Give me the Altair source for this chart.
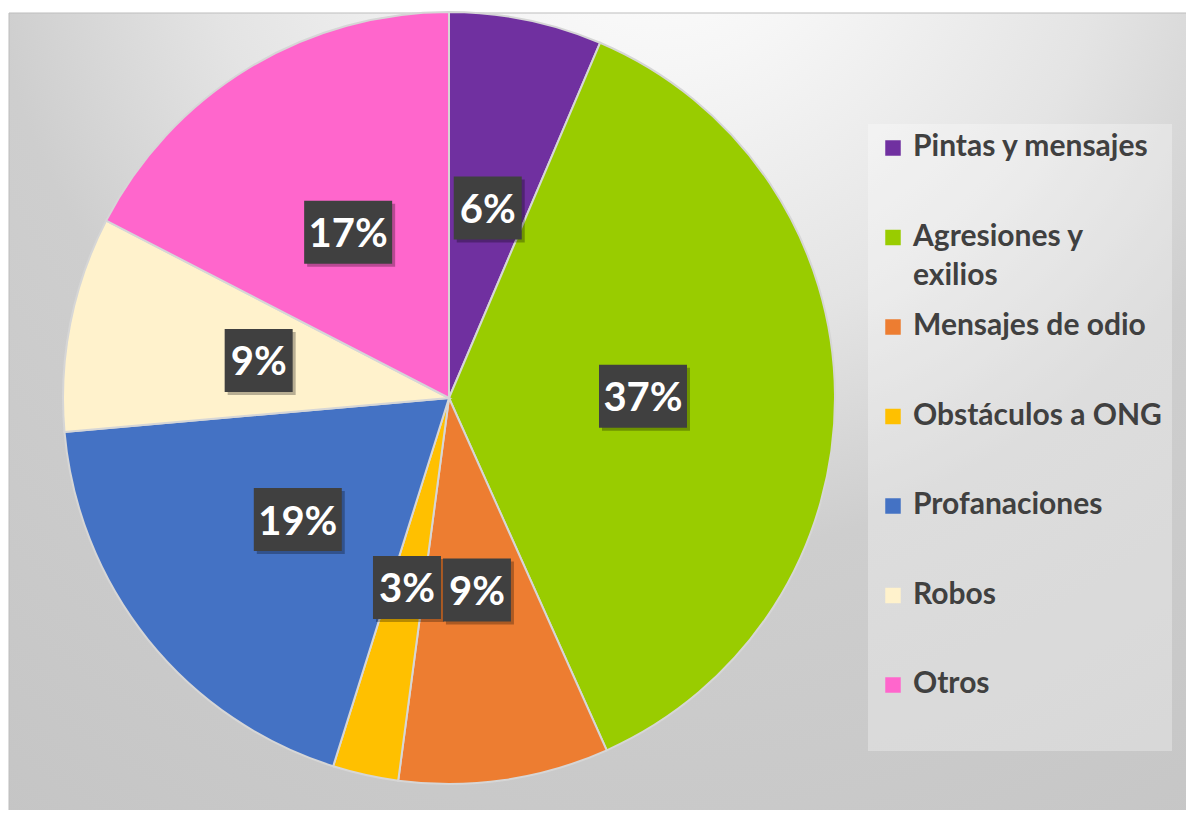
import altair as alt
import pandas as pd

# ---- data ----
categories = ["Pintas y mensajes", "Agresiones y exilios", "Mensajes de odio",
              "Obstáculos a ONG", "Profanaciones", "Robos", "Otros"]
legend_text = ["Pintas y mensajes", "Agresiones y|exilios", "Mensajes de odio",
               "Obstáculos a ONG", "Profanaciones", "Robos", "Otros"]
values = [6.4, 36.9, 8.8, 2.75, 18.75, 9.0, 17.4]
labels = ["6%", "37%", "9%", "3%", "19%", "9%", "17%"]
colors = ["#7030a0", "#99cc00", "#ed7d31", "#ffc000", "#4472c4", "#fff2cc", "#ff66cc"]

W, H = 1178, 802
CX, CY, R = 440, 385, 386
LR = 194          # label radius
BOX_H = 63
FONT = "Lato"

df = pd.DataFrame({"cat": categories, "legend": legend_text, "value": values,
                   "label": labels, "idx": list(range(len(categories)))})

color = alt.Color("cat:N", scale=alt.Scale(domain=categories, range=colors), legend=None)

# background with radial gradient
bg = alt.Chart(pd.DataFrame({"a": [0]})).mark_rect(
    fill=alt.RadialGradient(
        gradient="radial", x1=0.55, y1=0.05, r1=0, x2=0.55, y2=0.05, r2=1.1,
        stops=[alt.GradientStop(offset=0, color="#ffffff"),
               alt.GradientStop(offset=0.14, color="#f6f6f6"),
               alt.GradientStop(offset=0.35, color="#e4e4e4"),
               alt.GradientStop(offset=0.52, color="#cecece"),
               alt.GradientStop(offset=1, color="#c2c2c2")]),
    stroke="#bdbdbd", strokeWidth=1,
).encode(x=alt.value(0), x2=alt.value(W), y=alt.value(0), y2=alt.value(H))

pie = alt.Chart(df).mark_arc(radius=R, stroke="#d6d6d6", strokeWidth=2).encode(
    theta=alt.Theta("value:Q", stack=True),
    order=alt.Order("idx:Q"),
    color=color,
    x=alt.value(CX), y=alt.value(CY),
)

lab = alt.Chart(df).transform_window(
    cum="sum(value)", sort=[alt.SortField("idx")], frame=[None, 0]
).transform_joinaggregate(total="sum(value)").transform_calculate(
    ang="(datum.cum - datum.value/2)/datum.total*2*PI",
    px=f"{CX} + {LR}*sin(datum.ang)",
    py=f"{CY} - {LR}*cos(datum.ang)",
    bw="20*length(datum.label)+28",
).transform_calculate(
    x0="datum.px - datum.bw/2", x1="datum.px + datum.bw/2",
    y0=f"datum.py - {BOX_H/2}", y1=f"datum.py + {BOX_H/2}",
    sx0="datum.px - datum.bw/2 + 3", sx1="datum.px + datum.bw/2 + 3",
    sy0=f"datum.py - {BOX_H/2} + 3", sy1=f"datum.py + {BOX_H/2} + 3",
)

shadow = lab.mark_rect(fill="#000000", opacity=0.28).encode(
    x=alt.X("sx0:Q", scale=None, axis=None), x2="sx1:Q",
    y=alt.Y("sy0:Q", scale=None, axis=None), y2="sy1:Q",
)
boxes = lab.mark_rect(fill="#404040").encode(
    x=alt.X("x0:Q", scale=None, axis=None), x2="x1:Q",
    y=alt.Y("y0:Q", scale=None, axis=None), y2="y1:Q",
)
texts = lab.mark_text(font=FONT, fontSize=40, fontWeight="bold", color="#ffffff",
                      align="center", baseline="middle", dy=3).encode(
    x=alt.X("px:Q", scale=None, axis=None),
    y=alt.Y("py:Q", scale=None, axis=None),
    text="label:N",
)

# legend
leg_bg = alt.Chart(pd.DataFrame({"a": [0]})).mark_rect(fill="#ffffff", opacity=0.3).encode(
    x=alt.value(859), x2=alt.value(1163), y=alt.value(111), y2=alt.value(738))

leg = alt.Chart(df).transform_calculate(
    ly="135 + datum.idx*89.5",
    ly2="135 + datum.idx*89.5 + 39",
    l1="split(datum.legend, '|')[0]",
    l2="length(split(datum.legend, '|')) > 1 ? split(datum.legend, '|')[1] : ''",
)
leg_sq = leg.mark_square(size=240, opacity=1).encode(
    x=alt.value(884), y=alt.Y("ly:Q", scale=None, axis=None), color=color)
leg_t1 = leg.mark_text(font=FONT, fontSize=30, fontWeight="bold", color="#404040",
                       align="left", baseline="middle", dy=-1).encode(
    x=alt.value(904), y=alt.Y("ly:Q", scale=None, axis=None), text="l1:N")
leg_t2 = leg.mark_text(font=FONT, fontSize=30, fontWeight="bold", color="#404040",
                       align="left", baseline="middle", dy=-1).encode(
    x=alt.value(904), y=alt.Y("ly2:Q", scale=None, axis=None), text="l2:N")

chart = alt.layer(bg, pie, shadow, boxes, texts, leg_bg, leg_sq, leg_t1, leg_t2).properties(
    width=W, height=H, padding=0, background="#ffffff",
    autosize=alt.AutoSizeParams(type="fit", contains="padding"),
).configure_view(stroke=None)

chart.save("out.html", embed_options={"renderer": "svg", "actions": False})
